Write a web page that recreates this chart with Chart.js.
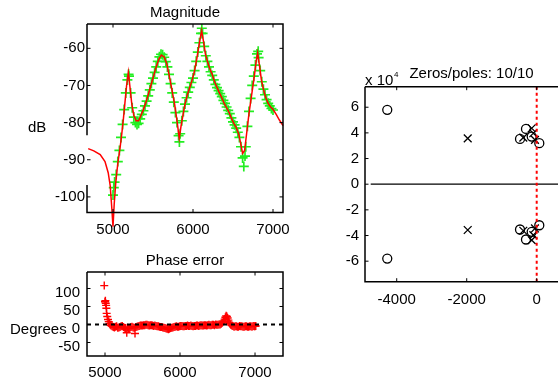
<!doctype html>
<html>
<head>
<meta charset="UTF-8">
<title>Magnitude / Phase error / Zeros-poles</title>
<script src="https://cdn.jsdelivr.net/npm/chart.js@4.4.0/dist/chart.umd.min.js"></script>
<style>
	html, body { margin: 0; padding: 0; background: #fff; overflow: hidden; width: 558px; height: 383px; }
	canvas { position: absolute; }
</style>
</head>
<body>
<canvas id="mag" width="300" height="245" style="left:0;top:0"></canvas>
<canvas id="phase" width="300" height="133" style="left:0;top:250px"></canvas>
<canvas id="pz" width="300" height="250" style="left:300px;top:60px"></canvas>
<script>
// --- magnitude: model (red line) ---
const magFreq = [4690, 4760, 4840, 4900, 4940, 4965, 4985, 5000, 5015, 5035, 5060, 5090, 5110, 5130, 5150, 5170, 5192,
	5210, 5235, 5260, 5290, 5320, 5350, 5380, 5420, 5460, 5500, 5540, 5575, 5605, 5640, 5670, 5700, 5735, 5770, 5800,
	5828, 5850, 5875, 5900, 5930, 5960, 5990, 6020, 6050, 6080, 6108, 6130, 6155, 6180, 6210, 6240, 6270, 6300, 6330,
	6360, 6390, 6420, 6450, 6480, 6510, 6540, 6570, 6595, 6620, 6645, 6670, 6700, 6730, 6760, 6790, 6808, 6830, 6855,
	6880, 6910, 6940, 6970, 7000, 7040, 7080, 7125];
const magModel = [-87.0, -87.6, -88.6, -90.5, -93.5, -97, -103, -108, -102, -96, -91, -86.5, -83, -79, -74.5, -70, -66.5,
	-70, -75, -78, -79.5, -79.5, -78, -76.5, -74, -71, -68, -65, -62.8, -61.8, -62.3, -64, -67, -71, -75, -79.5,
	-84.2, -81, -78, -75, -72.5, -70.5, -68.5, -66, -62.5, -58.5, -55.2, -58, -61.5, -63.5, -65.5, -67, -69, -70.5, -72,
	-73.3, -74.8, -76, -77.2, -78.8, -80.2, -81.3, -83, -85.5, -88.3, -87.5, -83, -77.5, -73, -68.5, -63.5, -61.2, -64.5, -68.5,
	-71, -73.3, -74.8, -75.8, -76.4, -77.8, -79.3, -80.8];

// --- magnitude: measured (green +) ---
const measFreq = [5000, 5010, 5020, 5040, 5060, 5080, 5100, 5120, 5140, 5160, 5180, 5195, 5200, 5220, 5240, 5260, 5280,
	5300, 5320, 5340, 5360, 5380, 5400, 5420, 5440, 5460, 5480, 5500, 5520, 5540, 5560, 5580, 5600, 5620, 5640, 5660,
	5680, 5700, 5720, 5740, 5760, 5780, 5800, 5820, 5830, 5840, 5860, 5880, 5900, 5920, 5940, 5960, 5980, 6000, 6020,
	6040, 6060, 6080, 6100, 6110, 6120, 6140, 6160, 6180, 6200, 6220, 6240, 6260, 6280, 6300, 6320, 6340, 6360, 6380,
	6400, 6420, 6440, 6460, 6480, 6500, 6520, 6540, 6560, 6580, 6600, 6620, 6635, 6650, 6660, 6680, 6700, 6720, 6740,
	6760, 6780, 6800, 6815, 6820, 6840, 6860, 6880, 6900, 6920, 6940, 6960, 6980, 7000];
const measMag = [-99.5, -97.5, -96, -94, -90.5, -87.5, -84, -80.5, -76.5, -72, -68.5, -67, -67.5, -72, -76, -78.5, -80,
	-80.5, -80.2, -79, -77.8, -76.8, -75.5, -74.2, -72.8, -71.2, -69.5, -68, -66.5, -65, -63.5, -62.3, -61.6, -61.7, -62.4, -63.6,
	-65, -67, -69.5, -72, -74.5, -77.3, -80, -83.5, -85.2, -83, -79.5, -77, -75, -73.3, -71.8, -70.5, -69.2, -68, -66,
	-63.5, -61, -58.5, -56, -54.6, -56, -59.5, -62, -63.5, -65, -66.3, -67.3, -68.5, -69.7, -70.6, -71.4, -72.2, -73, -74,
	-74.8, -75.8, -76.7, -77.6, -78.7, -79.8, -80.6, -81.5, -82.6, -84, -86.5, -89.5, -91.8, -89, -86.5, -81, -77, -73.5, -70,
	-67.5, -64.5, -61.5, -60.8, -62.5, -66, -69, -71, -72.5, -73.8, -74.8, -75.5, -76.2, -76.6];

// --- phase error (red +) ---
const phaseFreq = [4990, 5000, 5005, 5010, 5015, 5018, 5022, 5030, 5040, 5050, 5060, 5070, 5080, 5095, 5110, 5125, 5140,
	5155, 5170, 5185, 5200, 5215, 5230, 5245, 5260, 5275, 5290, 5300, 5315, 5330, 5345, 5360, 5375, 5390, 5400, 5410,
	5425, 5440, 5455, 5470, 5485, 5500, 5515, 5530, 5545, 5560, 5575, 5590, 5605, 5620, 5635, 5650, 5665, 5680, 5695,
	5710, 5725, 5740, 5755, 5770, 5785, 5800, 5815, 5830, 5845, 5860, 5875, 5890, 5905, 5920, 5935, 5950, 5965, 5980,
	5995, 6010, 6025, 6040, 6055, 6070, 6085, 6100, 6115, 6130, 6145, 6160, 6175, 6190, 6205, 6220, 6235, 6250, 6265,
	6280, 6295, 6310, 6325, 6340, 6355, 6370, 6385, 6400, 6415, 6430, 6445, 6460, 6475, 6490, 6505, 6520, 6535, 6550,
	6565, 6580, 6595, 6605, 6615, 6625, 6635, 6645, 6655, 6665, 6675, 6690, 6705, 6720, 6735, 6750, 6765, 6780, 6795,
	6810, 6825, 6840, 6855, 6870, 6885, 6900, 6915, 6930, 6945, 6960, 6975, 6990, 7000, 7010];
const phaseErr = [108, 63, 66, 59, 53, 45, 31, 22, 14, 8, 3, -1, -3, -5, -7, -8, -6,
	-5, -9, -8, -7, -5, -4, -7, -9, -10, -23, -9, -11, -10, -7, -6, -8, -9, -25, -7,
	-6, -5, -4, -3, -3, -3, -2, -2, -1, -1, -2, -3, -2, -2, -3, -4, -3, -4, -5,
	-5, -6, -7, -7, -8, -9, -10, -11, -12, -13, -12, -10, -9, -8, -7, -6, -5, -6, -6,
	-5, -4, -4, -5, -5, -4, -4, -3, -4, -4, -3, -4, -5, -4, -4, -3, -3, -4, -3,
	-2, -3, -3, -2, -2, -3, -2, -1, -2, -2, -1, -1, -2, 0, -1, -1, 0, 0, 2,
	5, 9, 15, 20, 24, 22, 18, 12, 6, 2, -1, -3, -4, -6, -5, -5, -6, -6, -4,
	-5, -5, -6, -6, -5, -5, -6, -6, -5, -5, -6, -4, -5, -5, -4];
const phaseRefX = [4760, 7373];
const phaseRefY = [0, 0];

// --- zeros / poles ---
const zeroRe = [-4270, -4270, -306, -477, -143, 74, -306, -477, -143, 74];
const zeroIm = [58000, -58000, 43100, 35300, 37100, 32000, -43100, -35300, -37100, -32000];
const poleRe = [-1971, -1971, -143, -383, -97, -49, -143, -383, -97, -49];
const poleIm = [35700, -35700, 43600, 36300, 39700, 34500, -43600, -36300, -39700, -34500];
const realAxisX = [-4743, 1180];
const imagAxisY = [-76000, 76000];

// ticks
const magXTicks = [5000, 6000, 7000];
const magYTicks = [-100, -90, -80, -70, -60];
const phaseXTicks = [5000, 6000, 7000];
const phaseYTicks = [-50, 0, 50, 100];
const pzXTicks = [-4000, -2000, 0];
const pzYTicks = [-60000, -40000, -20000, 0, 20000, 40000, 60000];

const FONT = '"Liberation Sans", Arial, sans-serif';
Chart.defaults.font.family = FONT;
Chart.defaults.font.size = 15;
Chart.defaults.color = '#000';

function pts(xs, ys) { return xs.map((x, i) => ({ x: x, y: ys[i] })); }

// frame with inward ticks on all sides + free text
const framePlugin = {
	id: 'frame',
	afterDraw(chart, args, opts) {
		const { ctx, chartArea: a, scales } = chart;
		ctx.save();
		ctx.strokeStyle = '#000';
		ctx.lineWidth = 1;
		const tl = 3.5;
		ctx.beginPath();
		scales.x.ticks.forEach(t => {
			const p = scales.x.getPixelForValue(t.value);
			ctx.moveTo(p, a.bottom); ctx.lineTo(p, a.bottom - tl);
			ctx.moveTo(p, a.top); ctx.lineTo(p, a.top + tl);
		});
		scales.y.ticks.forEach(t => {
			const p = scales.y.getPixelForValue(t.value);
			ctx.moveTo(a.left, p); ctx.lineTo(a.left + tl, p);
			ctx.moveTo(a.right, p); ctx.lineTo(a.right - tl, p);
		});
		ctx.stroke();
		ctx.lineWidth = 1.5;
		ctx.beginPath();
		ctx.moveTo(a.left, a.top);
		ctx.lineTo(a.right, a.top);
		ctx.lineTo(a.right, a.bottom);
		ctx.lineTo(a.left, a.bottom);
		if (opts.gap) {
			ctx.lineTo(a.left, scales.y.getPixelForValue(opts.gap[1]));
			ctx.moveTo(a.left, scales.y.getPixelForValue(opts.gap[0]));
		}
		ctx.lineTo(a.left, a.top);
		ctx.stroke();
		ctx.fillStyle = '#000';
		ctx.textBaseline = 'alphabetic';
		(opts.texts || []).forEach(t => {
			ctx.font = (t.size || 15) + 'px ' + FONT;
			ctx.textAlign = t.align || 'center';
			ctx.fillText(t.text, t.x, t.y);
		});
		ctx.restore();
	}
};

function axis(min, max, ticks, size, pad, fmt, offset) {
	return {
		type: 'linear', min: min, max: max,
		grid: { display: false, drawTicks: false },
		border: { display: false },
		ticks: { padding: pad, autoSkip: false, maxRotation: 0, color: '#000', labelOffset: offset || 0,
			callback: fmt || (v => String(v)) },
		afterBuildTicks: s => { s.ticks = ticks.map(v => ({ value: v })); },
		afterFit: s => { if (s.isHorizontal()) s.height = size; else s.width = size; }
	};
}

const base = {
	responsive: false,
	animation: false,
	events: [],
	plugins: { legend: { display: false }, tooltip: { enabled: false } }
};

// Magnitude
new Chart(document.getElementById('mag'), {
	type: 'scatter',
	data: {
		datasets: [
			{ data: pts(magFreq, magModel), showLine: true, borderColor: '#ff0000', borderWidth: 1.5, pointRadius: 0, clip: false },
			{ data: pts(measFreq, measMag), showLine: false, pointStyle: 'cross', pointRadius: 5, borderColor: '#22ee22', borderWidth: 1.7 }
		]
	},
	options: Object.assign({}, base, {
		layout: { padding: { left: 0, top: 24, right: 17, bottom: 0 } },
		scales: {
			x: axis(4675, 7125, magXTicks, 32.5, 8),
			y: axis(-104.2, -53.45, magYTicks, 87, 2)
		},
		plugins: Object.assign({}, base.plugins, {
			frame: {
				gap: [-83.4, -96.8],
				texts: [
					{ text: 'Magnitude', x: 185, y: 17 },
					{ text: 'dB', x: 28, y: 132, align: 'left' }
				]
			}
		})
	}),
	plugins: [framePlugin]
});

// Phase error
new Chart(document.getElementById('phase'), {
	type: 'scatter',
	data: {
		datasets: [
			{ data: pts(phaseRefX, phaseRefY), showLine: true, borderColor: '#000', borderWidth: 2, borderDash: [4, 4], pointRadius: 0 },
			{ data: pts(phaseFreq, phaseErr), showLine: false, pointStyle: 'cross', pointRadius: 4, borderColor: '#ff0000', borderWidth: 1.4 }
		]
	},
	options: Object.assign({}, base, {
		layout: { padding: { left: 0, top: 22, right: 17, bottom: 0 } },
		scales: {
			x: axis(4760, 7373, phaseXTicks, 27, 8),
			y: axis(-87.5, 145.8, phaseYTicks, 87, 7, null, 4)
		},
		plugins: Object.assign({}, base.plugins, {
			frame: {
				texts: [
					{ text: 'Phase error', x: 185, y: 15 },
					{ text: 'Degrees', x: 10, y: 84, align: 'left' }
				]
			}
		})
	}),
	plugins: [framePlugin]
});

// Zeros / poles
new Chart(document.getElementById('pz'), {
	type: 'scatter',
	data: {
		datasets: [
			{ data: [{ x: 0, y: imagAxisY[0] }, { x: 0, y: imagAxisY[1] }], showLine: true, borderColor: '#ff0000', borderWidth: 2, borderDash: [3, 3], pointRadius: 0 },
			{ data: pts(zeroRe, zeroIm), showLine: false, pointStyle: 'circle', pointRadius: 4.5, borderColor: '#000', backgroundColor: 'rgba(0,0,0,0)', borderWidth: 1.3 },
			{ data: pts(poleRe, poleIm), showLine: false, pointStyle: 'crossRot', pointRadius: 5.5, borderColor: '#000', borderWidth: 1.3 },
			{ data: [{ x: realAxisX[0], y: 0 }, { x: realAxisX[1], y: 0 }], showLine: true, borderColor: '#000', borderWidth: 1.3, pointRadius: 0 }
		]
	},
	options: Object.assign({}, base, {
		layout: { padding: { left: 0, top: 26.7, right: 22, bottom: 0 } },
		scales: {
			x: axis(-4906, 1180, pzXTicks, 28.3, 9),
			y: axis(-76000, 76000, pzYTicks, 65, 6, v => String(v / 10000))
		},
		plugins: Object.assign({}, base.plugins, {
			frame: {
				texts: [
					{ text: 'Zeros/poles: 10/10', x: 171.5, y: 18.3 },
					{ text: 'x 10', x: 65, y: 25, align: 'left' },
					{ text: '4', x: 94, y: 16.5, align: 'left', size: 8 }
				]
			}
		})
	}),
	plugins: [framePlugin]
});
</script>
</body>
</html>
